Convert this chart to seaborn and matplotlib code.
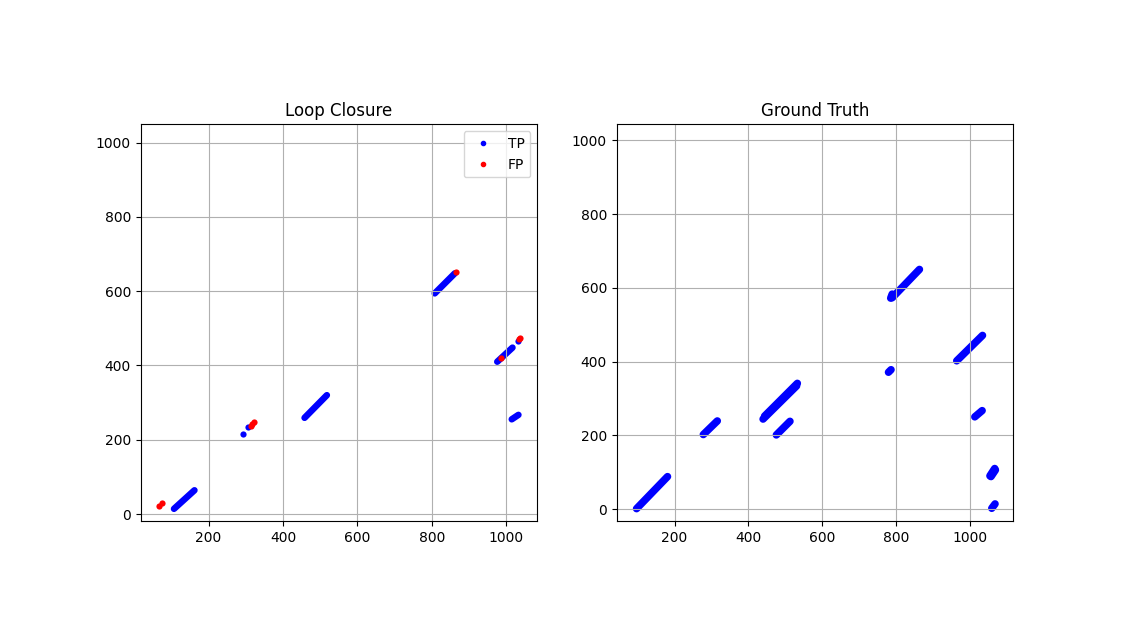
import matplotlib
matplotlib.use('Agg')
import matplotlib.pyplot as plt
from matplotlib.lines import Line2D
import pandas as pd
import seaborn as sns

# Loop Closure: TP runs (start x, start y, end x, end y)
lc_tp_x0 = [107, 458, 808, 976, 1015]
lc_tp_y0 = [14, 259, 594, 410, 255]
lc_tp_x1 = [162, 518, 862, 1017, 1033]
lc_tp_y1 = [64, 320, 648, 448, 267]
# single TP / FP detections
lc_tp_px = [292, 306, 1031]
lc_tp_py = [215, 234, 465]
lc_fp_px = [67, 75, 314, 318, 322, 866, 987, 1035, 1036]
lc_fp_py = [21, 31, 238, 243, 247, 652, 421, 470, 474]

# Ground Truth runs
gt_x0 = [97, 278, 440, 444, 476, 780, 790, 786, 965, 1014, 1055, 1058, 1060]
gt_y0 = [1, 202, 244, 252, 201, 371, 573, 572, 402, 250, 90, 88, 2]
gt_x1 = [181, 316, 531, 533, 513, 787, 864, 790, 1035, 1034, 1068, 1070, 1069]
gt_y1 = [88, 239, 334, 341, 238, 378, 650, 583, 471, 267, 110, 106, 14]


def runs_frame(x0, y0, x1, y1):
    rows = []
    for i in range(len(x0)):
        rows.append({'seg': i, 'x': x0[i], 'y': y0[i]})
        rows.append({'seg': i, 'x': x1[i], 'y': y1[i]})
    return pd.DataFrame(rows)


fig, axes = plt.subplots(1, 2, figsize=(11.26, 6.39), dpi=100)

ax = axes[0]
sns.lineplot(data=runs_frame(lc_tp_x0, lc_tp_y0, lc_tp_x1, lc_tp_y1), x='x', y='y',
             units='seg', estimator=None, sort=False, color='blue', lw=4.7,
             solid_capstyle='round', zorder=1, ax=ax)
sns.scatterplot(x=lc_tp_px, y=lc_tp_py, color='blue', s=20, linewidth=0, zorder=1, ax=ax)
sns.scatterplot(x=lc_fp_px, y=lc_fp_py, color='red', s=20, linewidth=0, zorder=1, ax=ax)
ax.set_xlim(17.6, 1084)
ax.set_ylim(-18.8, 1049)
ax.set_title('Loop Closure')
handles = [Line2D([], [], ls='none', marker='.', color='blue'),
           Line2D([], [], ls='none', marker='.', color='red')]
ax.legend(handles, ['TP', 'FP'], loc='upper right')

ax = axes[1]
sns.lineplot(data=runs_frame(gt_x0, gt_y0, gt_x1, gt_y1), x='x', y='y',
             units='seg', estimator=None, sort=False, color='blue', lw=5.4,
             solid_capstyle='round', zorder=1, ax=ax)
ax.set_xlim(43.3, 1118.7)
ax.set_ylim(-32.5, 1043.4)
ax.set_title('Ground Truth')

for ax in axes:
    ax.set_box_aspect(1)
    ax.grid(True)
    ax.set_xlabel('')
    ax.set_ylabel('')

plt.savefig('out.png')
